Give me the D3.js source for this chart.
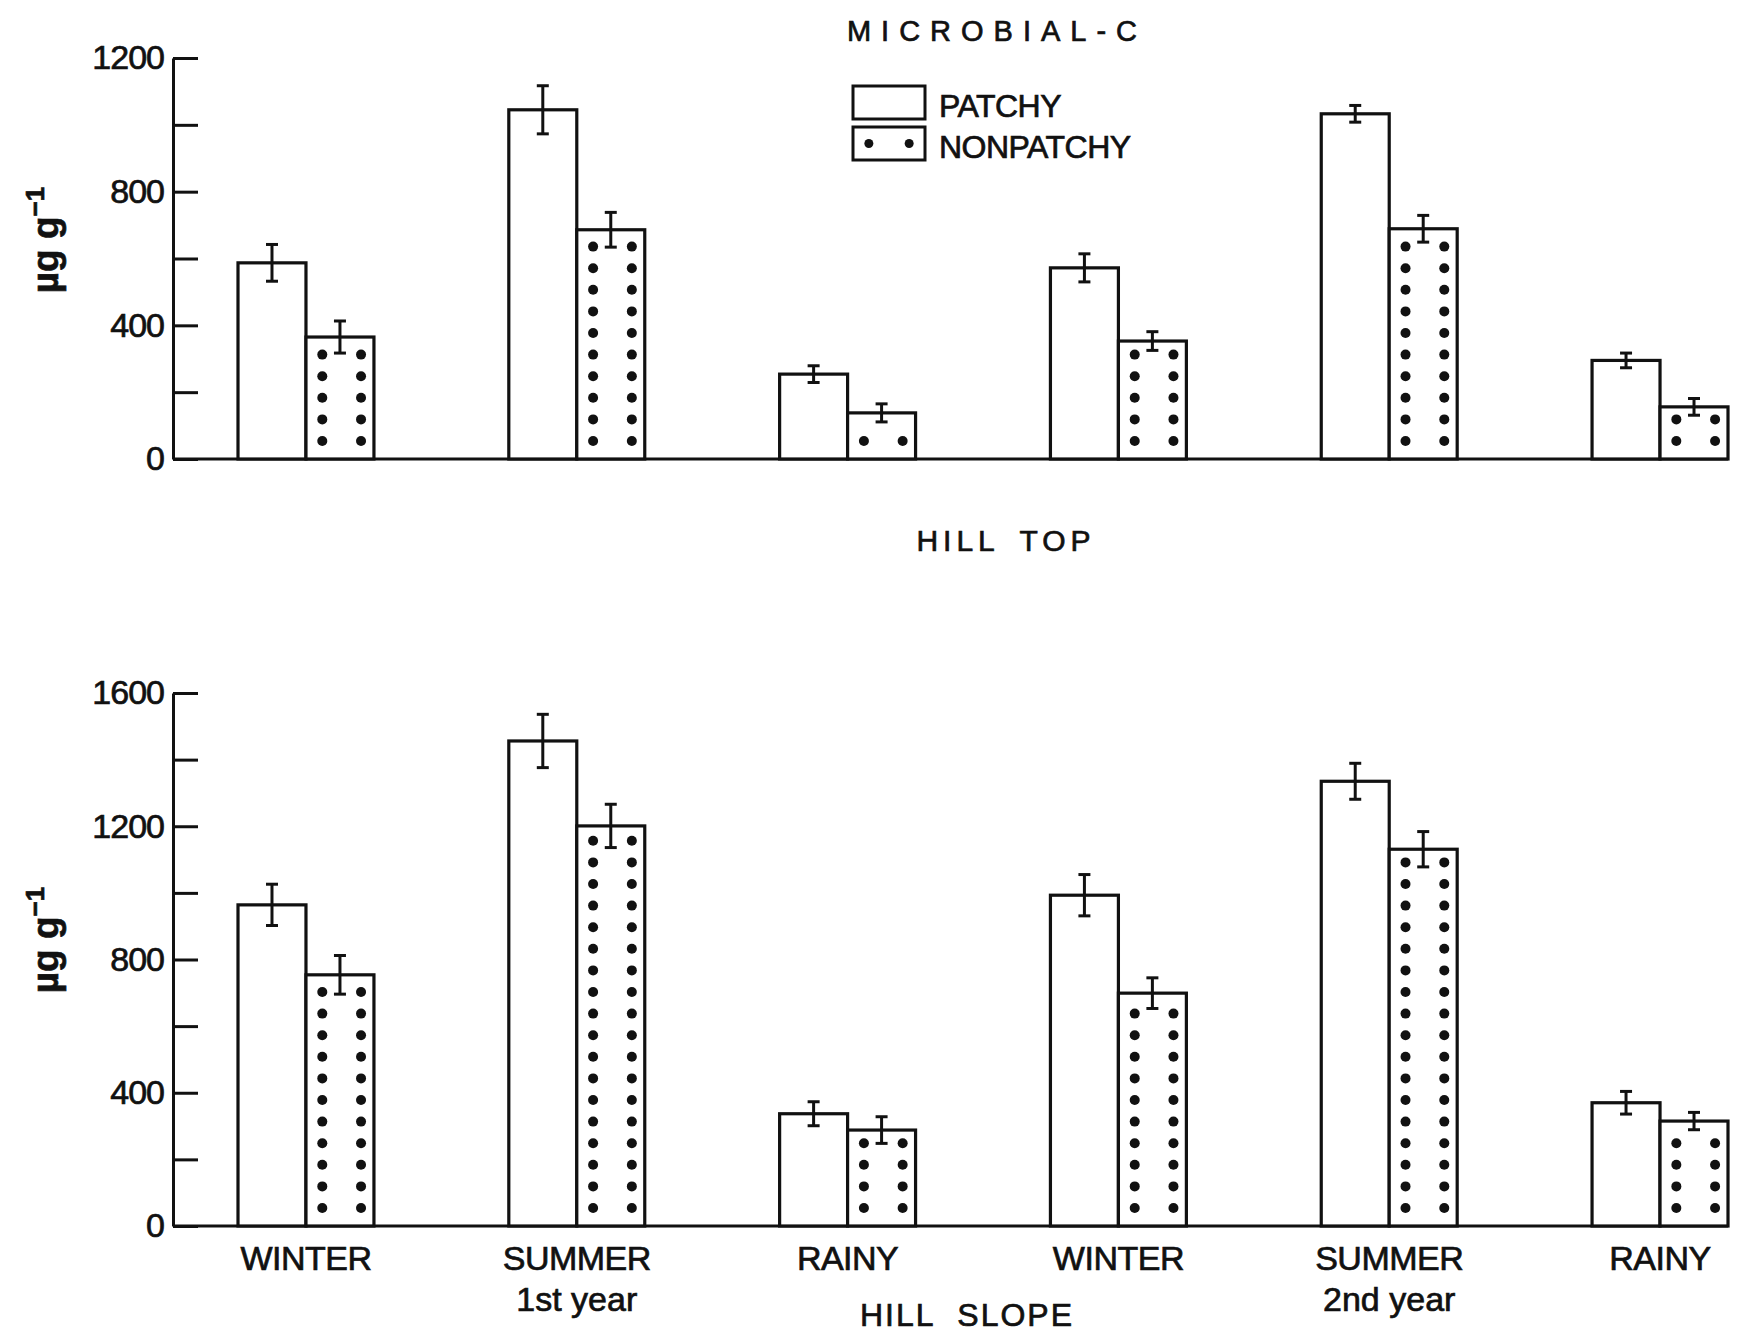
<!doctype html>
<html>
<head>
<meta charset="utf-8">
<script src="https://cdnjs.cloudflare.com/ajax/libs/d3/7.8.5/d3.min.js"></script>
<style>
  body { margin: 0; background: #fff; }
  text { font-family: "Liberation Sans", Arial, sans-serif; fill: #111; stroke: #111; stroke-width: 0.7px; }
</style>
</head>
<body>
<svg width="1747" height="1341"></svg>
<script>
// categories and labels
var seasons = ["WINTER", "SUMMER", "RAINY", "WINTER", "SUMMER", "RAINY"];
var yearNotes = ["", "1st year", "", "", "2nd year", ""];
var seriesNames = ["PATCHY", "NONPATCHY"];

// hill top, microbial C (ug/g)
var topPatchy     = [587, 1045, 254, 572, 1033, 295];
var topPatchyErr  = [55, 72, 25, 42, 25, 22];
var topNonpatchy  = [365, 686, 138, 353, 689, 156];
var topNonpatchyErr = [48, 52, 27, 28, 40, 25];
var topTicks  = [0, 200, 400, 600, 800, 1000, 1200];
var topLabels = [0, 400, 800, 1200];

// hill slope
var slopePatchy     = [964, 1456, 337, 993, 1335, 370];
var slopePatchyErr  = [62, 80, 36, 62, 54, 34];
var slopeNonpatchy  = [754, 1201, 288, 699, 1131, 315];
var slopeNonpatchyErr = [58, 65, 40, 46, 53, 26];
var slopeTicks  = [0, 200, 400, 600, 800, 1000, 1200, 1400, 1600];
var slopeLabels = [0, 400, 800, 1200, 1600];

var svg = d3.select("svg");
var axisX = 173, rightEnd = 1728;

var x = d3.scaleBand().domain(d3.range(seasons.length))
  .range([238, rightEnd]).paddingInner(0.498).paddingOuter(0);
var xs = d3.scaleBand().domain(seriesNames).range([0, x.bandwidth()]);

function drawPanel(p) {
  var y = d3.scaleLinear().domain([0, p.max]).range([p.bottom, p.top]);
  var g = svg.append("g");

  var axis = d3.axisLeft(y).tickValues(p.ticks)
    .tickSizeInner(-25).tickSizeOuter(0).tickPadding(9)
    .tickFormat(d => p.labels.indexOf(d) >= 0 ? d : "");
  var ag = g.append("g").attr("transform", "translate(" + axisX + ",0)").call(axis);
  ag.selectAll("path, line").attr("stroke", "#111").attr("stroke-width", 3);
  ag.selectAll("text").attr("font-family", "Liberation Sans, Arial, sans-serif")
    .attr("font-size", 34).attr("letter-spacing", -1).attr("fill", "#111");

  // baseline
  g.append("line").attr("x1", axisX).attr("x2", rightEnd)
    .attr("y1", y(0)).attr("y2", y(0)).attr("stroke", "#111").attr("stroke-width", 3);

  var rows = seasons.map((s, i) => [
    {k: "PATCHY", i: i, v: p.patchy[i], e: p.patchyErr[i]},
    {k: "NONPATCHY", i: i, v: p.non[i], e: p.nonErr[i]}
  ]);
  var flat = d3.merge(rows);

  g.selectAll("rect.bar").data(flat).enter().append("rect")
    .attr("class", "bar")
    .attr("x", d => x(d.i) + xs(d.k))
    .attr("y", d => y(d.v))
    .attr("width", xs.bandwidth())
    .attr("height", d => y(0) - y(d.v))
    .attr("fill", "#fff").attr("stroke", "#111").attr("stroke-width", 3.2);

  // dots inside nonpatchy bars
  var dots = [];
  flat.filter(d => d.k == "NONPATCHY").forEach(function(d) {
    var bx = x(d.i) + xs(d.k), w = xs.bandwidth();
    for (var yy = y(0) - 18; yy >= y(d.v) + 9; yy -= 21.6) {
      dots.push([bx + w * 0.24, yy]);
      dots.push([bx + w * 0.81, yy]);
    }
  });
  g.selectAll("circle.dot").data(dots).enter().append("circle")
    .attr("cx", d => d[0]).attr("cy", d => d[1]).attr("r", 5).attr("fill", "#111");

  // error bars
  var eb = g.selectAll("g.err").data(flat).enter().append("g")
    .attr("transform", d => "translate(" + (x(d.i) + xs(d.k) + xs.bandwidth() / 2) + ",0)");
  eb.append("line").attr("y1", d => y(d.v + d.e)).attr("y2", d => y(d.v - d.e))
    .attr("stroke", "#111").attr("stroke-width", 3);
  eb.append("line").attr("x1", -6).attr("x2", 6)
    .attr("y1", d => y(d.v + d.e)).attr("y2", d => y(d.v + d.e))
    .attr("stroke", "#111").attr("stroke-width", 3);
  eb.append("line").attr("x1", -6).attr("x2", 6)
    .attr("y1", d => y(d.v - d.e)).attr("y2", d => y(d.v - d.e))
    .attr("stroke", "#111").attr("stroke-width", 3);

  // y label
  var yl = g.append("text")
    .attr("transform", "translate(58," + p.labelY + ") rotate(-90)")
    .attr("text-anchor", "middle").attr("font-size", 37).attr("font-weight", "bold");
  yl.append("tspan").text("\u00b5g g");
  yl.append("tspan").attr("dy", -14).attr("font-size", 26).text("\u2212");
  yl.append("tspan").attr("font-size", 26).text("1");
  return y;
}

drawPanel({max: 1200, top: 58, bottom: 459, ticks: topTicks, labels: topLabels,
  patchy: topPatchy, patchyErr: topPatchyErr, non: topNonpatchy, nonErr: topNonpatchyErr, labelY: 240});
drawPanel({max: 1600, top: 693, bottom: 1226, ticks: slopeTicks, labels: slopeLabels,
  patchy: slopePatchy, patchyErr: slopePatchyErr, non: slopeNonpatchy, nonErr: slopeNonpatchyErr, labelY: 940});

// category labels under the bottom panel
svg.selectAll("text.season").data(seasons).enter().append("text")
  .attr("x", (d, i) => x(i) + x.bandwidth() / 2).attr("y", 1270)
  .attr("text-anchor", "middle").attr("font-size", 34).attr("letter-spacing", -0.5)
  .text(d => d);
svg.selectAll("text.year").data(yearNotes).enter().append("text")
  .attr("x", (d, i) => x(i) + x.bandwidth() / 2).attr("y", 1311)
  .attr("text-anchor", "middle").attr("font-size", 34)
  .text(d => d);

// titles
svg.append("text").attr("x", 997).attr("y", 41).attr("text-anchor", "middle")
  .attr("font-size", 29).attr("letter-spacing", 10).text("MICROBIAL-C");
svg.append("text").attr("x", 1006).attr("y", 551).attr("text-anchor", "middle")
  .attr("font-size", 30).attr("letter-spacing", 5).attr("word-spacing", 8).text("HILL TOP");
svg.append("text").attr("x", 967).attr("y", 1326).attr("text-anchor", "middle")
  .attr("font-size", 32).attr("letter-spacing", 2).attr("word-spacing", 12).text("HILL SLOPE");

// legend
var leg = svg.append("g").attr("transform", "translate(853,86)");
var legItems = leg.selectAll("g").data(seriesNames).enter().append("g")
  .attr("transform", (d, i) => "translate(0," + (i * 41) + ")");
legItems.append("rect").attr("width", 72).attr("height", 33)
  .attr("fill", "#fff").attr("stroke", "#111").attr("stroke-width", 3);
legItems.filter(d => d == "NONPATCHY").selectAll("circle").data([0.22, 0.78]).enter()
  .append("circle").attr("cx", d => 72 * d).attr("cy", 16.5).attr("r", 4.5).attr("fill", "#111");
legItems.append("text").attr("x", 86).attr("y", 31).attr("font-size", 32)
  .attr("letter-spacing", -0.5).text(d => d);
</script>
</body>
</html>
